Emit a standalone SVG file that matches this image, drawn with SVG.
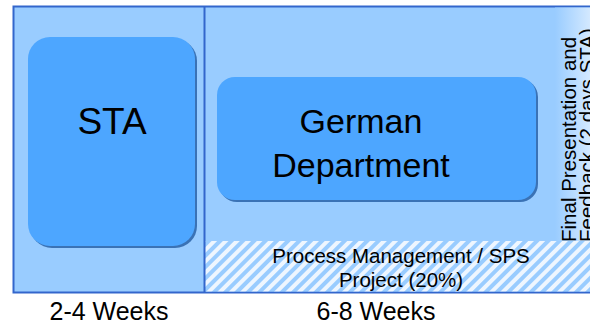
<svg xmlns="http://www.w3.org/2000/svg" width="590" height="324" viewBox="0 0 590 324">
  <defs>
    <pattern id="hatch" patternUnits="userSpaceOnUse" width="8" height="8" patternTransform="rotate(45)">
      <rect width="8" height="8" fill="#99ccff"/>
      <rect width="4" height="8" fill="#eef6ff"/>
    </pattern>
    <linearGradient id="fade" x1="0" y1="0" x2="1" y2="0">
      <stop offset="0" stop-color="#99ccff"/>
      <stop offset="1" stop-color="#dcedff"/>
    </linearGradient>
  </defs>
  <style>
    .panel { fill: #99ccff; stroke: #3366cc; stroke-width: 2; }
    .box { fill: #4da6ff; }
    .shadow { fill: #3a72b5; }
    .t { font-family: "Liberation Sans", Arial, sans-serif; fill: #000; text-anchor: middle; }
  </style>
  <g id="frame">
    <rect class="panel" x="13.5" y="6.5" width="600" height="286"/>
    <rect x="555" y="7.5" width="40" height="234" fill="url(#fade)"/>
    <rect x="205" y="241" width="390" height="50.5" fill="url(#hatch)"/>
    <line x1="204.5" y1="6.5" x2="204.5" y2="292.5" stroke="#3366cc" stroke-width="2"/>
  </g>
  <g id="sta">
    <rect class="shadow" x="30" y="39" width="167" height="209" rx="22"/>
    <rect class="box" x="28" y="37" width="167" height="209" rx="22"/>
    <text class="t" x="112" y="134" font-size="37">STA</text>
  </g>
  <g id="german">
    <rect class="shadow" x="219" y="79" width="319" height="123" rx="18"/>
    <rect class="box" x="217" y="77" width="319" height="123" rx="18"/>
    <text class="t" x="361" y="133" font-size="34">German</text>
    <text class="t" x="361" y="177" font-size="34">Department</text>
  </g>
  <g id="process">
    <text class="t" x="401" y="263" font-size="20.5">Process Management / SPS</text>
    <text class="t" x="401" y="287" font-size="20.5">Project (20%)</text>
  </g>
  <g id="final">
    <text class="t" font-size="20.5" style="text-anchor:start" transform="translate(576,242) rotate(-90)">Final Presentation and</text>
    <text class="t" font-size="20.5" style="text-anchor:start" transform="translate(594,242) rotate(-90)">Feedback  (2 days STA)</text>
  </g>
  <g id="labels">
    <text class="t" x="109" y="320" font-size="25">2-4 Weeks</text>
    <text class="t" x="376" y="320" font-size="25">6-8 Weeks</text>
  </g>
  <g id="connectors"/>
</svg>
